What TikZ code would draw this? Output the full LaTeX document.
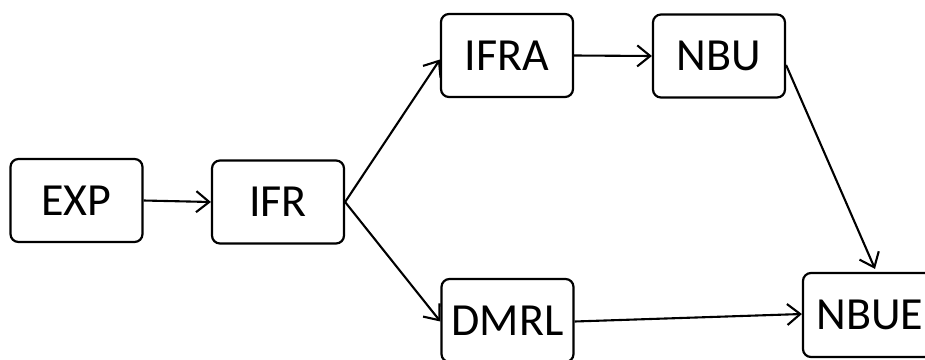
\documentclass[tikz,border=0pt]{standalone}
\usepackage{fontspec}
\setmainfont{Carlito}
\usetikzlibrary{arrows.meta}
\begin{document}
\begin{tikzpicture}[x=1pt,y=-1pt,
  box/.style={draw,line width=2.2pt,rounded corners=8pt,minimum width=132pt,minimum height=83pt,
    inner sep=0pt,font=\fontsize{46}{55}\selectfont},
  link/.style={line width=2.1pt,-{Straight Barb[length=13pt,width=21pt,line width=2.1pt]}}]
\useasboundingbox (0,0) rectangle (925,359);
\begin{scope}
\clip (0,0) rectangle (925,359);
\node[box] (exp)  at (76.5,200.5) {EXP};
\node[box] (ifr)  at (278,202)   {IFR};
\node[box] (ifra) at (507,55.5)  {IFRA};
\node[box] (nbu)  at (719,56)    {NBU};
\node[box] (dmrl) at (507.5,320.5) {DMRL};
\node[box,minimum width=134pt,minimum height=84pt] (nbue) at (870,315) {NBUE};
\end{scope}
\draw[link] (exp.east) -- (ifr.west);
\draw[link] (ifr.east) -- ([yshift=-4pt]ifra.west);
\draw[link] (ifr.east) -- ([yshift=-1pt]dmrl.west);
\draw[link] (ifra.east) -- (nbu.west);
\draw[link] ([yshift=-9pt]nbu.east) -- ([xshift=5pt,yshift=3pt]nbue.north);
\draw[link] ([yshift=-1pt]dmrl.east) -- ([yshift=1pt]nbue.west);
\end{tikzpicture}
\end{document}
